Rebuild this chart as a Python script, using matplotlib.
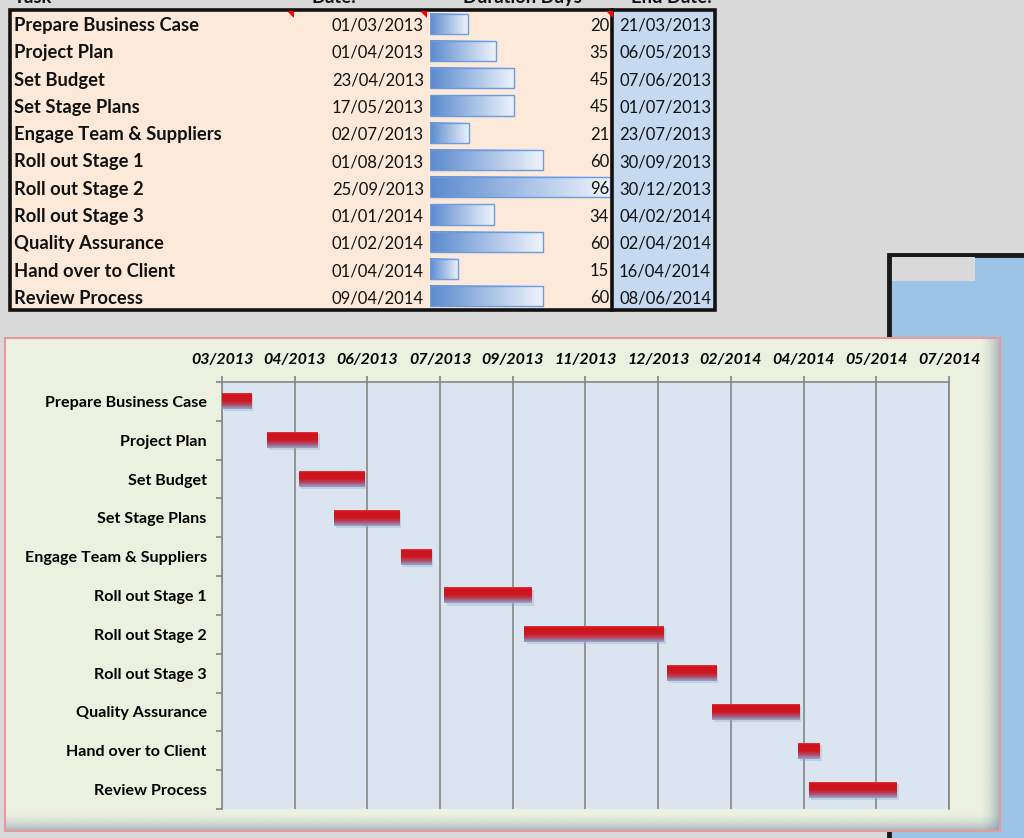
import matplotlib
matplotlib.use("Agg")
import matplotlib.pyplot as plt
import matplotlib.dates as mdates
import matplotlib.patheffects as pe
import numpy as np
from matplotlib.patches import Rectangle, Polygon
from matplotlib.colors import to_rgb
from datetime import datetime

# ---------------- data ----------------
tasks = ["Prepare Business Case", "Project Plan", "Set Budget", "Set Stage Plans",
         "Engage Team & Suppliers", "Roll out Stage 1", "Roll out Stage 2",
         "Roll out Stage 3", "Quality Assurance", "Hand over to Client", "Review Process"]
start_dates = ["01/03/2013", "01/04/2013", "23/04/2013", "17/05/2013", "02/07/2013",
               "01/08/2013", "25/09/2013", "01/01/2014", "01/02/2014", "01/04/2014",
               "09/04/2014"]
durations = [20, 35, 45, 45, 21, 60, 96, 34, 60, 15, 60]
end_dates = ["21/03/2013", "06/05/2013", "07/06/2013", "01/07/2013", "23/07/2013",
             "30/09/2013", "30/12/2013", "04/02/2014", "02/04/2014", "16/04/2014",
             "08/06/2014"]
headers = ["Task", "Date:", "Duration Days", "End Date:"]
axis_min = "01/03/2013"
axis_max = "14/07/2014"
major_unit_days = 50

FONT = ["Lato", "DejaVu Sans"]
plt.rcParams["font.family"] = FONT

def to_num(s):
    return mdates.date2num(datetime.strptime(s, "%d/%m/%Y"))

W, H = 1024, 838
fig = plt.figure(figsize=(W / 100, H / 100), dpi=100, facecolor="#d9d9d9")

def px_axes(x0, y0, x1, y1, **kw):
    return fig.add_axes([x0 / W, 1 - y1 / H, (x1 - x0) / W, (y1 - y0) / H], **kw)

bg = px_axes(0, 0, W, H)
bg.set_xlim(0, W); bg.set_ylim(H, 0); bg.axis("off"); bg.set_zorder(0)

def rect(x0, y0, x1, y1, **kw):
    bg.add_patch(Rectangle((x0, y0), x1 - x0, y1 - y0, **kw))

# ---- blue shape at right ----
rect(889, 255, 1040, 860, facecolor="#9dc3e6", edgecolor="#1a1a1a", linewidth=3.5)
rect(892, 257, 975, 281, facecolor="#d9d9d9", edgecolor="none")

# ---- table ----
TX0, TX1, TY0, TY1 = 10, 715, 10, 310
COL_SPLIT = 612
n = len(tasks)
rh = (TY1 - TY0) / n
rect(TX0, TY0, COL_SPLIT, TY1, facecolor="#fde9d9", edgecolor="none")
rect(COL_SPLIT, TY0, TX1, TY1, facecolor="#c5d9f1", edgecolor="none")
rect(TX0, TY0, TX1, TY1, facecolor="none", edgecolor="#111111", linewidth=2.6, zorder=5)
bg.plot([COL_SPLIT, COL_SPLIT], [TY0, TY1], color="#111111", lw=2.6, zorder=5)
for xr in (294, 427, 613):
    bg.add_patch(Polygon([[xr - 7, TY0 + 1], [xr, TY0 + 1], [xr, TY0 + 8]],
                         closed=True, facecolor="#ff0000", edgecolor="none", zorder=6))

# ---- chart area ----
CX0, CY0, CX1, CY1 = 5, 338, 1000, 831
rect(CX0, CY0, CX1, CY1, facecolor="#ebf1de", edgecolor="none", zorder=1)
shade = np.array(to_rgb("#7f93aa"))
ramp = np.linspace(0, 0.75, 40) ** 1.6
img_r = np.zeros((1, 40, 4)); img_r[..., :3] = shade; img_r[0, :, 3] = ramp
bg.imshow(img_r, extent=(980, CX1, CY1, CY0), aspect="auto", zorder=2, interpolation="bilinear")
img_b = np.zeros((40, 1, 4)); img_b[..., :3] = shade; img_b[:, 0, 3] = ramp
bg.imshow(img_b, extent=(CX0, CX1, CY1, 813), aspect="auto", zorder=2, interpolation="bilinear")
rect(CX0, CY0, CX1, CY1, facecolor="none", edgecolor="#e39b9b", linewidth=1.5, zorder=3)
bg.set_xlim(0, W); bg.set_ylim(H, 0)

# ---- table data bars ----
db = px_axes(430, TY0, 610, TY1)
db.set_zorder(2)
db.axis("off")
db.patch.set_alpha(0)
dbars = db.barh(range(n), durations, height=0.74, facecolor="none",
                edgecolor="#6d9be0", linewidth=1.0, zorder=3)
c0, c1 = np.array(to_rgb("#5b8bcf")), np.array(to_rgb("#eef3fb"))
t = np.linspace(0, 1, 64)[None, :, None]
hgrad = c0 + (c1 - c0) * t
for b in dbars:
    x0, y0 = b.get_x(), b.get_y()
    db.imshow(hgrad, extent=(x0, x0 + b.get_width(), y0 + b.get_height(), y0),
              aspect="auto", zorder=2, interpolation="bilinear")
db.set_xlim(0, max(durations))
db.set_ylim(n - 0.5, -0.5)

# ---- table texts (overlay) ----
ov = px_axes(0, 0, W, H)
ov.set_xlim(0, W); ov.set_ylim(H, 0); ov.axis("off"); ov.set_zorder(4)
ov.patch.set_alpha(0)
fs_task = 13.2
fs_num = 12.0
hdr_x = [(14, "left"), (356, "right"), (582, "right"), (712, "right")]
for (x, ha), h in zip(hdr_x, headers):
    ov.text(x, 3, h, ha=ha, va="baseline", fontsize=fs_task, fontweight="bold", color="#111111")
for i in range(n):
    yc = TY0 + rh * (i + 0.5) + 2.0
    ov.text(14, yc, tasks[i], ha="left", va="center", fontsize=fs_task, fontweight="bold", color="#111111")
    ov.text(424, yc, start_dates[i], ha="right", va="center", fontsize=fs_num, color="#111111")
    ov.text(609, yc, str(durations[i]), ha="right", va="center", fontsize=fs_num, color="#111111")
    ov.text(711, yc, end_dates[i], ha="right", va="center", fontsize=fs_num, color="#111111")

# ---- Gantt chart ----
ax = px_axes(222, 382, 949, 809)
ax.set_zorder(3)
ax.set_facecolor("#dbe5f1")
starts = np.array([to_num(s) for s in start_dates])
xmin, xmax = to_num(axis_min), to_num(axis_max)
bars = ax.barh(range(n), durations, left=starts, height=0.41, color="#c8141c",
               edgecolor="none", zorder=3)
for b in bars:
    b.set_path_effects([pe.SimplePatchShadow(offset=(1.5, -1.5), shadow_rgbFace="#9aa6b8", alpha=0.35),
                        pe.Normal()])
stops = [0.0, 0.1, 0.5, 0.75, 1.0]
cols = np.array([to_rgb("#e23a40"), to_rgb("#d0121a"), to_rgb("#cc1822"),
                 to_rgb("#b0506c"), to_rgb("#8fa8d6")])
tt = np.linspace(0, 1, 64)
vgrad = np.stack([np.interp(tt, stops, cols[:, k]) for k in range(3)], axis=-1)[:, None, :]
for b in bars:
    x0, y0 = b.get_x(), b.get_y()
    ax.imshow(vgrad, extent=(x0, x0 + b.get_width(), y0 + b.get_height(), y0),
              aspect="auto", zorder=4, interpolation="bilinear")

ax.set_xlim(xmin, xmax)
ax.set_ylim(n - 0.5, -0.5)
ax.xaxis.tick_top()
ax.set_xticks(np.arange(xmin, xmax + 0.5, major_unit_days))
ax.xaxis.set_major_formatter(mdates.DateFormatter("%m/%Y"))
ax.tick_params(axis="x", length=4, width=1.2, color="#868686", pad=7, labelsize=11.5)
for lab in ax.get_xticklabels():
    lab.set_fontweight("bold"); lab.set_fontstyle("italic")
ax.set_yticks(range(n))
ax.set_yticklabels(tasks, fontsize=11.6, fontweight="bold")
ax.set_yticks(np.arange(-0.5, n, 1.0), minor=True)
ax.tick_params(axis="y", which="major", length=0, pad=11)
ax.tick_params(axis="y", which="minor", length=4, width=1.2, color="#868686")
ax.grid(axis="x", color="#868686", linewidth=1.2, zorder=1)
ax.set_axisbelow(True)
for side in ("left", "top", "right"):
    ax.spines[side].set_color("#868686"); ax.spines[side].set_linewidth(1.2)
ax.spines["bottom"].set_visible(False)

fig.savefig("out.png", dpi=100, facecolor=fig.get_facecolor())
